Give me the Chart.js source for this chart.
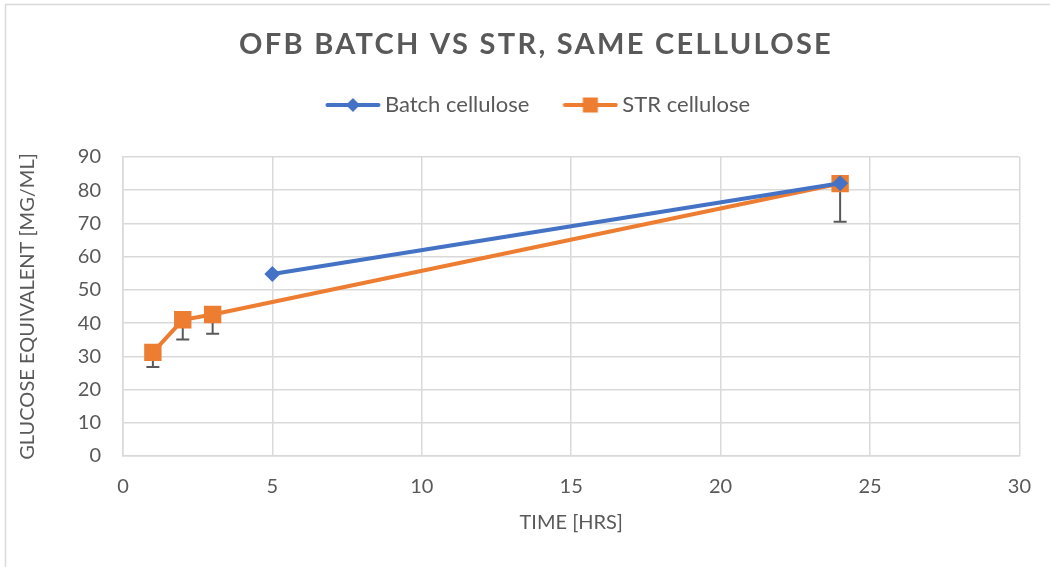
<!DOCTYPE html>
<html>
<head>
<meta charset="utf-8">
<script src="https://cdn.jsdelivr.net/npm/chart.js@4.4.0/dist/chart.umd.min.js"></script>
<style>
  html, body { margin: 0; padding: 0; background: #ffffff; }
  #wrap { width: 1050px; height: 567px; position: relative; }
</style>
</head>
<body>
<div id="wrap"><canvas id="c" width="1050" height="567"></canvas></div>
<script>
// ---- Data ----
const chartTitle = "OFB BATCH VS STR, SAME CELLULOSE";
const xAxisTitle = "TIME [HRS]";
const yAxisTitle = "GLUCOSE EQUIVALENT [MG/ML]";
const seriesNames = ["Batch cellulose", "STR cellulose"];

const batchTime = [5, 24];
const batchGlucose = [54.8, 82.1];

const strTime = [1, 2, 3, 24];
const strGlucose = [31.2, 41.0, 42.6, 82.0];
const strErrMinus = [4.4, 5.9, 5.8, 11.5];

const xTicks = [0, 5, 10, 15, 20, 25, 30];
const yTicks = [0, 10, 20, 30, 40, 50, 60, 70, 80, 90];

const BLUE = "#4472C4";
const ORANGE = "#ED7D31";
const TEXT = "#595959";
const GRID = "#D9D9D9";
const FONT = "Lato, 'Open Sans', sans-serif";

function toXY(xs, ys) { return xs.map((x, i) => ({ x: x, y: ys[i] })); }

function legendIcon(color, style) {
  const cv = document.createElement('canvas');
  cv.width = 56; cv.height = 18;
  const g = cv.getContext('2d');
  g.strokeStyle = color; g.lineWidth = 4; g.lineCap = 'round';
  g.beginPath(); g.moveTo(2.5, 9); g.lineTo(53.5, 9); g.stroke();
  g.fillStyle = color;
  if (style === 'diamond') {
    g.beginPath(); g.moveTo(28, 2); g.lineTo(35, 9); g.lineTo(28, 16); g.lineTo(21, 9); g.closePath(); g.fill();
  } else {
    g.fillRect(20.5, 1.5, 15, 15);
  }
  return cv;
}
const legendIcons = [legendIcon(BLUE, 'diamond'), legendIcon(ORANGE, 'square')];

const titlePlugin = {
  id: 'customTitle',
  afterDraw(chart) {
    const ctx = chart.ctx;
    ctx.save();
    ctx.font = "bold 29px " + FONT;
    ctx.fillStyle = TEXT;
    ctx.textAlign = 'center';
    ctx.textBaseline = 'middle';
    try { ctx.letterSpacing = '2.3px'; } catch (e) {}
    ctx.fillText(chartTitle, 536, 45);
    ctx.restore();
  }
};

const borderPlugin = {
  id: 'outerBorder',
  beforeDraw(chart) {
    const ctx = chart.ctx;
    ctx.save();
    ctx.strokeStyle = GRID;
    ctx.lineWidth = 1.5;
    ctx.strokeRect(5.5, 4.5, 1100, 700);
    ctx.restore();
  }
};

const errorBarPlugin = {
  id: 'errorBars',
  beforeDatasetsDraw(chart) {
    const ctx = chart.ctx;
    const xs = chart.scales.x, ys = chart.scales.y;
    ctx.save();
    ctx.strokeStyle = TEXT;
    ctx.lineWidth = 2;
    strTime.forEach((t, i) => {
      const px = xs.getPixelForValue(t);
      const top = ys.getPixelForValue(strGlucose[i]);
      const bot = ys.getPixelForValue(strGlucose[i] - strErrMinus[i]);
      ctx.beginPath();
      ctx.moveTo(px, top); ctx.lineTo(px, bot);
      ctx.moveTo(px - 6.5, bot); ctx.lineTo(px + 6.5, bot);
      ctx.stroke();
    });
    ctx.restore();
  }
};

const LEFT_PAD = 60;

new Chart(document.getElementById('c'), {
  type: 'scatter',
  data: {
    datasets: [
      {
        label: seriesNames[0],
        data: toXY(batchTime, batchGlucose),
        showLine: true,
        borderColor: BLUE,
        backgroundColor: BLUE,
        borderWidth: 4,
        pointStyle: 'rectRot',
        pointRadius: 8,
        pointHoverRadius: 8,
        pointBorderWidth: 0,
        tension: 0
      },
      {
        label: seriesNames[1],
        data: toXY(strTime, strGlucose),
        showLine: true,
        borderColor: ORANGE,
        backgroundColor: ORANGE,
        borderWidth: 4,
        pointStyle: 'rect',
        pointRadius: 12.3,
        pointHoverRadius: 12.3,
        pointBorderWidth: 0,
        tension: 0
      }
    ]
  },
  options: {
    responsive: false,
    animation: false,
    devicePixelRatio: 1,
    layout: { padding: { top: 54, right: 28, bottom: 0, left: LEFT_PAD } },
    plugins: {
      title: { display: false },
      tooltip: { enabled: false },
      legend: {
        display: true,
        position: 'top',
        labels: {
          usePointStyle: true,
          pointStyleWidth: 42,
          padding: 40,
          color: TEXT,
          font: { family: FONT, size: 22 },
          generateLabels(chart) {
            const items = Chart.defaults.plugins.legend.labels.generateLabels(chart);
            items.forEach((it, i) => { it.pointStyle = legendIcons[i]; });
            return items;
          }
        }
      }
    },
    scales: {
      x: {
        type: 'linear',
        min: 0, max: 30,
        afterBuildTicks(scale) { scale.ticks = xTicks.map(v => ({ value: v })); },
        afterFit(scale) { scale.height = 111; },
        grid: { color: GRID, lineWidth: 1.5, drawTicks: false },
        border: { color: GRID, width: 1.5 },
        ticks: { color: TEXT, font: { family: FONT, size: 20 }, padding: 19 },
        title: { display: true, text: xAxisTitle, color: TEXT, font: { family: FONT, size: 20 }, padding: { top: 0, bottom: 32 } }
      },
      xSpacer: {
        type: 'linear',
        position: 'top',
        display: true,
        min: 0, max: 30,
        afterFit(scale) { scale.height = 31; },
        grid: { display: false },
        border: { display: false },
        ticks: { display: false }
      },
      y: {
        type: 'linear',
        min: 0, max: 90,
        afterBuildTicks(scale) { scale.ticks = yTicks.map(v => ({ value: v })); },
        afterFit(scale) { scale.width = 123 - LEFT_PAD; },
        grid: { color: GRID, lineWidth: 1.5, drawTicks: false },
        border: { color: GRID, width: 1.5 },
        ticks: { color: TEXT, font: { family: FONT, size: 20 }, padding: 22 },
        title: { display: true, text: yAxisTitle, color: TEXT, font: { family: FONT, size: 20 }, padding: { top: 28 - LEFT_PAD - 12, bottom: 0 } }
      }
    }
  },
  plugins: [borderPlugin, errorBarPlugin, titlePlugin]
});
</script>
</body>
</html>
